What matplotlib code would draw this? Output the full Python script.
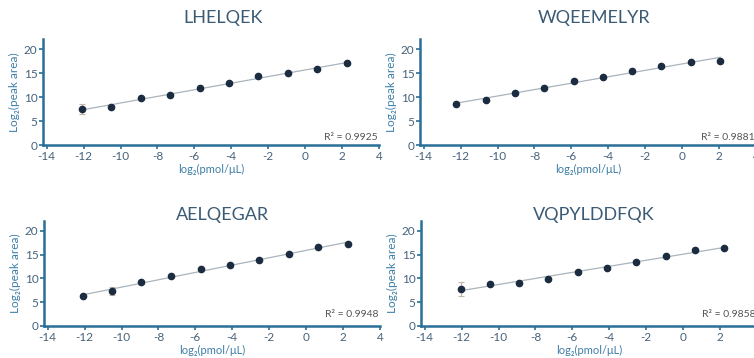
import numpy as np
import matplotlib.pyplot as plt

plt.rcParams['font.family'] = ['Lato', 'DejaVu Sans']
plt.rcParams['axes.unicode_minus'] = False

# peptide dilution series: log2(pmol/uL) vs log2(peak area)
peptides = ['LHELQEK', 'WQEEMELYR', 'AELQEGAR', 'VQPYLDDFQK']
r2_labels = ['R² = 0.9925', 'R² = 0.9881', 'R² = 0.9948', 'R² = 0.9858']

x_lhelqek = [-12.09, -10.49, -8.90, -7.30, -5.72, -4.12, -2.53, -0.93, 0.66, 2.28]
y_lhelqek = [7.46, 7.94, 9.76, 10.38, 11.85, 12.90, 14.30, 15.10, 15.75, 17.14]
e_lhelqek = [1.0, 0.5, 0.2, 0.2, 0.2, 0.2, 0.2, 0.2, 0.2, 0.1]

x_wqeemelyr = [-12.24, -10.64, -9.07, -7.48, -5.88, -4.31, -2.71, -1.12, 0.49, 2.06]
y_wqeemelyr = [8.64, 9.34, 10.87, 11.85, 13.24, 14.28, 15.47, 16.52, 17.28, 17.49]
e_wqeemelyr = [0.2, 0.2, 0.2, 0.2, 0.2, 0.2, 0.2, 0.2, 0.2, 0.2]

x_aelqegar = [-12.09, -10.49, -8.92, -7.30, -5.72, -4.12, -2.53, -0.93, 0.66, 2.26]
y_aelqegar = [6.41, 7.32, 9.20, 10.45, 11.92, 12.89, 13.94, 15.19, 16.59, 17.21]
e_aelqegar = [0.2, 0.8, 0.3, 0.2, 0.2, 0.2, 0.2, 0.2, 0.2, 0.2]

x_vqpylddfqk = [-12.05, -10.47, -8.88, -7.30, -5.72, -4.13, -2.54, -0.95, 0.63, 2.23]
y_vqpylddfqk = [7.80, 8.92, 9.06, 9.90, 11.29, 12.26, 13.45, 14.70, 15.96, 16.45]
e_vqpylddfqk = [1.5, 0.3, 0.4, 0.2, 0.2, 0.2, 0.2, 0.2, 0.2, 0.2]

xs = [x_lhelqek, x_wqeemelyr, x_aelqegar, x_vqpylddfqk]
ys = [y_lhelqek, y_wqeemelyr, y_aelqegar, y_vqpylddfqk]
errs = [e_lhelqek, e_wqeemelyr, e_aelqegar, e_vqpylddfqk]

spine_col = '#2a6f97'
tick_col = '#46627a'
label_col = '#3d7ea6'
title_col = '#3b5a74'
dot_col = '#1b2c40'

W, H = 754, 358
fig = plt.figure(figsize=(W / 100, H / 100), dpi=100)

# axes boxes in pixels: left, axis-bottom, top
boxes = [(43, 145, 39), (420, 145, 39), (44, 326, 221), (421, 326, 221)]
title_pos = [(223, 18), (594, 18), (222, 215), (594, 215)]
r2_y = [0.075, 0.075, 0.105, 0.105]

for i in range(4):
    left, bot, top = boxes[i]
    ax = fig.add_axes([left / W, 1 - bot / H, 336 / W, (bot - top) / H])
    x = np.array(xs[i])
    y = np.array(ys[i])

    slope, icpt = np.polyfit(x, y, 1)
    xf = np.array([x.min(), x.max()])
    ax.plot(xf, slope * xf + icpt, color='#a9b4bc', lw=0.9, zorder=1)
    ax.errorbar(x, y, yerr=errs[i], fmt='none', ecolor='#c4b6a8', elinewidth=0.8,
                capsize=2, capthick=0.8, zorder=2)
    ax.plot(x, y, 'o', color=dot_col, markersize=4.5, zorder=3)

    ax.set_xlim(-14.2, 4)
    ax.set_ylim(0, 22.1)
    ax.set_xticks(np.arange(-14, 5, 2))
    ax.set_yticks([0, 5, 10, 15, 20])
    for s in ['top', 'right']:
        ax.spines[s].set_visible(False)
    for s in ['left', 'bottom']:
        ax.spines[s].set_color(spine_col)
        ax.spines[s].set_linewidth(1.8)
    ax.tick_params(colors=spine_col, labelcolor=tick_col, labelsize=8.5, length=3,
                   width=1.2, pad=1)
    ax.set_xlabel('log₂(pmol/μL)', color=label_col, fontsize=8, labelpad=2)
    ax.set_ylabel('Log₂(peak area)', color=label_col, fontsize=8.5, labelpad=3)
    ax.text(0.835, r2_y[i], r2_labels[i], transform=ax.transAxes, fontsize=7.5,
            color='#555555', ha='left', va='center')

    tx, ty = title_pos[i]
    fig.text(tx / W, 1 - ty / H, peptides[i], fontsize=13, color=title_col,
             ha='center', va='center')

fig.savefig('out.png', dpi=100)
